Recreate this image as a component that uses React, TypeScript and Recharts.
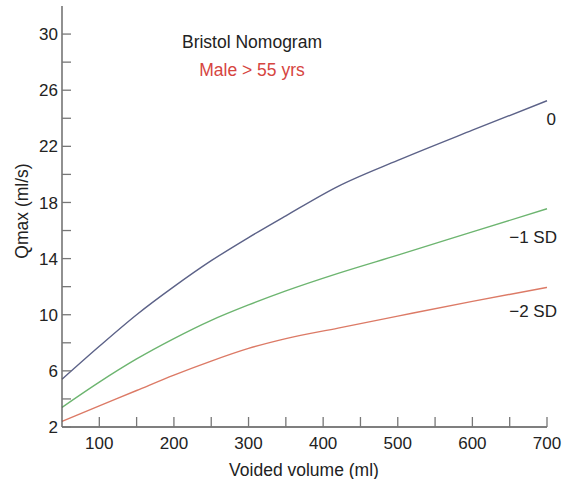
import React from "react";
import { LineChart, Line, XAxis, YAxis } from "recharts";

const volumes = [50, 100, 150, 200, 250, 300, 350, 420, 500, 600, 700];
const mean0 = [5.4, 7.75, 10.0, 12.0, 13.85, 15.5, 17.05, 19.15, 21.0, 23.15, 25.25];
const minus1SD = [3.4, 5.2, 6.85, 8.3, 9.6, 10.7, 11.7, 12.95, 14.25, 15.9, 17.55];
const minus2SD = [2.4, 3.5, 4.6, 5.7, 6.7, 7.6, 8.3, 9.05, 9.9, 10.95, 11.95];

const xTicks = [100, 150, 200, 250, 300, 350, 400, 450, 500, 550, 600, 650, 700];
const xLabelled = [100, 200, 300, 400, 500, 600, 700];
const yTicks = [2, 4, 6, 8, 10, 12, 14, 16, 18, 20, 22, 24, 26, 28, 30];
const yLabelled = [2, 6, 10, 14, 18, 22, 26, 30];

const title = "Bristol Nomogram";
const subtitle = "Male > 55 yrs";
const seriesLabels = ["0", "\u22121 SD", "\u22122 SD"];

const data = volumes.map((v, i) => ({
  v,
  m0: mean0[i],
  m1: minus1SD[i],
  m2: minus2SD[i],
}));

const FONT = "'Liberation Sans', Arial, Helvetica, sans-serif";

const XTick = (props: any) => {
  const { x, y, payload } = props;
  if (!xLabelled.includes(payload.value)) return <g />;
  return (
    <text x={x} y={y} dy="0.71em" textAnchor="middle" fontSize={17} fill="#222" fontFamily={FONT}>
      {payload.value}
    </text>
  );
};

const YTick = (props: any) => {
  const { x, y, payload } = props;
  if (!yLabelled.includes(payload.value)) return <g />;
  return (
    <text x={x} y={y} dy="0.355em" textAnchor="end" fontSize={17} fill="#222" fontFamily={FONT}>
      {payload.value}
    </text>
  );
};

export default function App() {
  return (
    <div style={{ position: "absolute", left: 0, top: 0, background: "#fff" }}>
      <LineChart
        width={569}
        height={479}
        data={data}
        margin={{ top: 6, right: 22, bottom: 0, left: 0 }}
      >
        <XAxis
          dataKey="v"
          type="number"
          domain={[50, 700]}
          ticks={xTicks}
          tick={<XTick />}
          tickSize={-10}
          tickMargin={20}
          height={52}
          stroke="#555"
          tickLine={{ stroke: "#777", strokeWidth: 1.3 }}
          axisLine={{ stroke: "#555", strokeWidth: 1.3 }}
          interval={0}
        />
        <YAxis
          type="number"
          domain={[2, 32]}
          ticks={yTicks}
          tick={<YTick />}
          tickSize={-9}
          tickMargin={13}
          width={62}
          stroke="#555"
          tickLine={{ stroke: "#777", strokeWidth: 1.3 }}
          axisLine={{ stroke: "#555", strokeWidth: 1.3 }}
          interval={0}
        />
        <Line type="monotone" dataKey="m0" stroke="#5c6288" strokeWidth={1.4} dot={false} isAnimationActive={false} />
        <Line type="monotone" dataKey="m1" stroke="#6db570" strokeWidth={1.4} dot={false} isAnimationActive={false} />
        <Line type="monotone" dataKey="m2" stroke="#dc7a66" strokeWidth={1.4} dot={false} isAnimationActive={false} />
        <text x={252} y={48} textAnchor="middle" fontSize={17.5} fill="#222" fontFamily={FONT}>
          {title}
        </text>
        <text x={252} y={76} textAnchor="middle" fontSize={17.5} fill="#d6453f" fontFamily={FONT}>
          {subtitle}
        </text>
        <text x={556} y={125} textAnchor="end" fontSize={17} fill="#222" fontFamily={FONT}>
          {seriesLabels[0]}
        </text>
        <text x={557} y={243} textAnchor="end" fontSize={17} fill="#222" fontFamily={FONT}>
          {seriesLabels[1]}
        </text>
        <text x={557} y={317} textAnchor="end" fontSize={17} fill="#222" fontFamily={FONT}>
          {seriesLabels[2]}
        </text>
        <text
          x={22}
          y={211}
          transform="rotate(-90 22 211)"
          textAnchor="middle"
          dy="0.355em"
          fontSize={17.5}
          fill="#222"
          fontFamily={FONT}
        >
          Qmax (ml/s)
        </text>
        <text x={304} y={470} textAnchor="middle" dy="0.355em" fontSize={17.5} fill="#222" fontFamily={FONT}>
          Voided volume (ml)
        </text>
      </LineChart>
    </div>
  );
}
